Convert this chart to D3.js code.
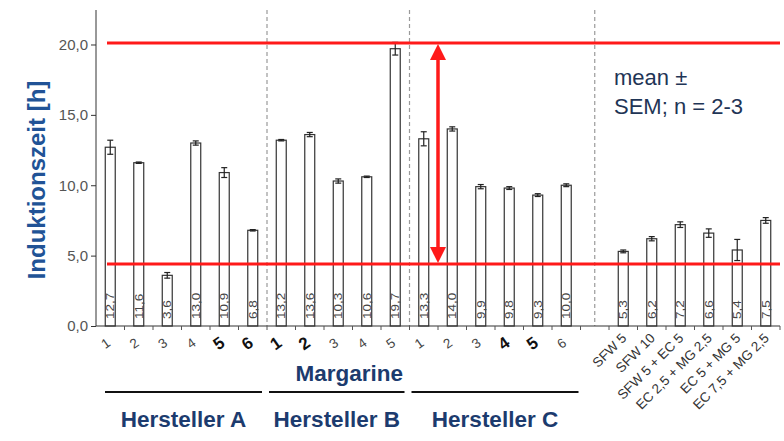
<!DOCTYPE html>
<html>
<head>
<meta charset="utf-8">
<script src="https://cdn.jsdelivr.net/npm/d3@7"></script>
<style>
  html, body { margin: 0; padding: 0; background: #fff; }
  svg { display: block; font-family: "Liberation Sans", Arial, sans-serif; }
</style>
</head>
<body>
<svg id="chart" width="784" height="441"></svg>
<script>
// ---- data ----
const tickLabels = ["1","2","3","4","5","6","1","2","3","4","5","1","2","3","4","5","6","",
  "SFW 5","SFW 10","SFW 5 + EC 5","EC 2,5 + MG 2,5","EC 5 + MG 5","EC 7,5 + MG 2,5"];
const values = [12.7,11.6,3.6,13.0,10.9,6.8, 13.2,13.6,10.3,10.6,19.7, 13.3,14.0,9.9,9.8,9.3,10.0, null,
  5.3,6.2,7.2,6.6,5.4,7.5];
const sem = [0.5,0.05,0.2,0.15,0.35,0.05, 0.05,0.15,0.15,0.05,0.45, 0.5,0.15,0.15,0.1,0.1,0.1, null,
  0.1,0.15,0.2,0.3,0.75,0.2];
const boldLabel = [0,0,0,0,1,1, 1,1,0,0,0, 0,0,0,1,1,0, 0, 0,0,0,0,0,0];
const groups = ["Hersteller A","Hersteller B","Hersteller C"];
const groupStart = [0, 6, 11];
const groupEnd = [5, 10, 16];
const yTicks = [0, 5, 10, 15, 20];
const refLines = [20.1, 4.4];
const yTitle = "Induktionszeit [h]";
const xTitle = "Margarine";
const note = ["mean \u00b1", "SEM; n = 2-3"];

// ---- scales ----
const svg = d3.select("#chart");
const idx = d3.range(values.length);
const x = d3.scaleBand().domain(idx).range([96, 780]).paddingInner(0.65).paddingOuter(0.325);
const step = x.step(), bw = x.bandwidth();
const y = d3.scaleLinear().domain([0, 22.45]).range([326, 10]);
const fmt = v => d3.format(".1f")(v).replace(".", ",");
const cx = i => x(i) + bw / 2;
const left = i => x(i) - step * x.paddingInner() / 2; // slot left boundary

const navy = "#1c3b6e";
const red = "#ff1a1a";

// dashed separators
const seps = [left(6), left(11), cx(17)];
svg.append("g").selectAll("line").data(seps).join("line")
  .attr("x1", d => d).attr("x2", d => d).attr("y1", y(22.45)).attr("y2", y(0))
  .attr("stroke", "#9a9a9a").attr("stroke-width", 1.2).attr("stroke-dasharray", "4,3");

// bars
const bars = idx.filter(i => values[i] != null);
svg.append("g").selectAll("rect").data(bars).join("rect")
  .attr("x", i => x(i)).attr("width", bw)
  .attr("y", i => y(values[i])).attr("height", i => y(0) - y(values[i]))
  .attr("fill", "#fff").attr("stroke", "#333").attr("stroke-width", 1.2);

// error bars
const eb = svg.append("g").attr("stroke", "#222").attr("stroke-width", 1.2);
bars.forEach(i => {
  const hi = y(values[i] + sem[i]), lo = y(values[i] - sem[i]);
  eb.append("line").attr("x1", cx(i)).attr("x2", cx(i)).attr("y1", hi).attr("y2", lo);
  eb.append("line").attr("x1", cx(i) - 3).attr("x2", cx(i) + 3).attr("y1", hi).attr("y2", hi);
  eb.append("line").attr("x1", cx(i) - 3).attr("x2", cx(i) + 3).attr("y1", lo).attr("y2", lo);
});

// value labels inside bars
svg.append("g").selectAll("text").data(bars).join("text")
  .attr("transform", i => `translate(${cx(i) + 4},${y(0) - 7}) rotate(-90) scale(1,0.8)`)
  .attr("font-size", 13.5).attr("fill", "#444")
  .text(i => fmt(values[i]));

// red reference lines
svg.append("g").selectAll("line").data(refLines).join("line")
  .attr("x1", 107).attr("x2", 780).attr("y1", d => y(d)).attr("y2", d => y(d))
  .attr("stroke", red).attr("stroke-width", 3);

// double arrow
const ax = left(12);
const yTop = y(refLines[0]) + 1, yBot = y(refLines[1]) - 1;
svg.append("line").attr("x1", ax).attr("x2", ax).attr("y1", yTop + 12).attr("y2", yBot - 12)
  .attr("stroke", red).attr("stroke-width", 3.5);
svg.append("path").attr("fill", red)
  .attr("d", `M${ax},${yTop} L${ax - 8},${yTop + 16} L${ax + 8},${yTop + 16} Z`);
svg.append("path").attr("fill", red)
  .attr("d", `M${ax},${yBot} L${ax - 8},${yBot - 16} L${ax + 8},${yBot - 16} Z`);

// y axis
const yAxis = svg.append("g").attr("transform", "translate(96,0)")
  .call(d3.axisLeft(y).tickValues(yTicks).tickFormat(fmt).tickSize(5).tickSizeOuter(0));
yAxis.select(".domain").attr("stroke", "#333").attr("d", `M0,${y(22.45)}V${y(0)}`);
yAxis.selectAll(".tick line").attr("stroke", "#333");
yAxis.selectAll(".tick text").attr("font-size", 15).attr("fill", "#555")
  .attr("font-family", "Liberation Sans, Arial, sans-serif").attr("x", -8);

// x axis line and ticks at slot boundaries
svg.append("line").attr("x1", 96).attr("x2", 780).attr("y1", y(0)).attr("y2", y(0))
  .attr("stroke", "#333").attr("stroke-width", 1.2);
svg.append("g").selectAll("line").data(d3.range(1, values.length + 1)).join("line")
  .attr("x1", i => 96 + i * step).attr("x2", i => 96 + i * step)
  .attr("y1", y(0)).attr("y2", y(0) + 4).attr("stroke", "#555");

// x tick labels: numbers
const numIdx = idx.filter(i => i < 17);
svg.append("g").selectAll("text").data(numIdx).join("text")
  .attr("transform", i => `translate(${cx(i) - 2},${boldLabel[i] ? 348 : 347}) rotate(-35)`)
  .attr("text-anchor", "middle")
  .attr("font-size", i => boldLabel[i] ? 17 : 13.5)
  .attr("font-weight", i => boldLabel[i] ? "bold" : "normal")
  .attr("fill", i => boldLabel[i] ? "#111" : "#444")
  .text(i => tickLabels[i]);

// x tick labels: SFW etc
const sfwIdx = idx.filter(i => i > 17);
svg.append("g").selectAll("text").data(sfwIdx).join("text")
  .attr("transform", i => `translate(${cx(i) + 4},${y(0) + 13}) rotate(-45)`)
  .attr("text-anchor", "end")
  .attr("font-size", 13.5).attr("fill", "#333")
  .text(i => tickLabels[i]);

// Margarine title
svg.append("text").attr("x", (x(0) + x(16) + bw) / 2 + 11).attr("y", 381)
  .attr("text-anchor", "middle").attr("font-size", 22.5).attr("font-weight", "bold")
  .attr("fill", navy).text(xTitle);

// Hersteller group lines and labels
groups.forEach((g, k) => {
  const x1 = left(groupStart[k]) + (k === 0 ? 9 : 2);
  const x2 = left(groupEnd[k] + 1) - (k === 2 ? 2 : 5);
  svg.append("line").attr("x1", x1).attr("x2", x2).attr("y1", 392).attr("y2", 392)
    .attr("stroke", "#111").attr("stroke-width", 2);
  svg.append("text").attr("x", (x1 + x2) / 2).attr("y", 427)
    .attr("text-anchor", "middle").attr("font-size", 22.5).attr("font-weight", "bold")
    .attr("fill", navy).text(g);
});

// y title
svg.append("text").attr("transform", "translate(45,180) rotate(-90)")
  .attr("text-anchor", "middle").attr("font-size", 24).attr("font-weight", "bold")
  .attr("fill", "#215396").text(yTitle);

// note
svg.append("g").selectAll("text").data(note).join("text")
  .attr("x", 614).attr("y", (d, i) => 85 + i * 29)
  .attr("font-size", 22).attr("fill", "#1f3556").text(d => d);
</script>
</body>
</html>
